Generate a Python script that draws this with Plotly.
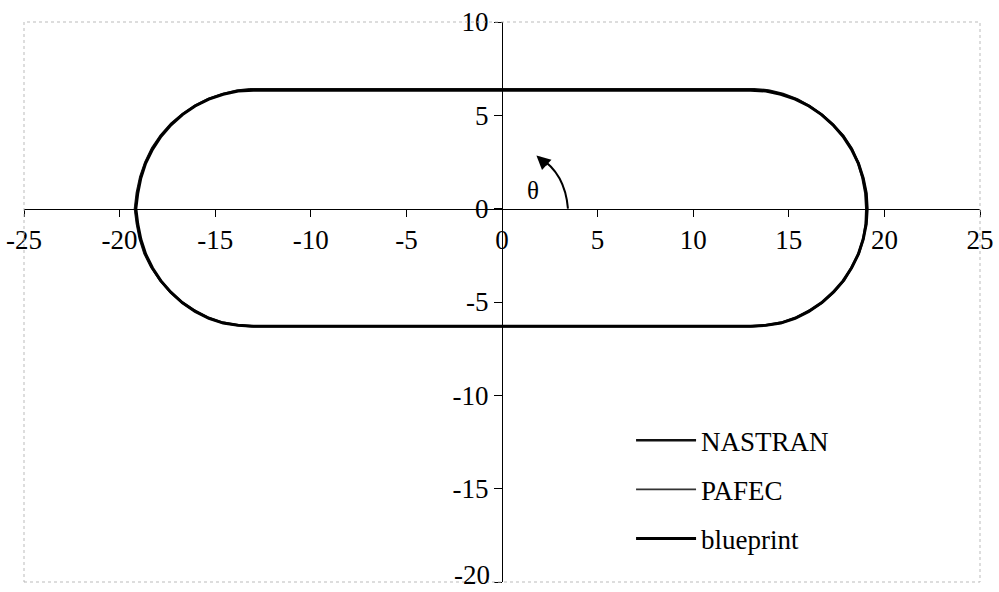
import plotly.graph_objects as go

# outline points (clockwise from the top-left corner of the flat part)
blueprint_x = [-13.0, 13.0, 13.80, 14.58, 15.33, 16.05, 16.71, 17.31, 17.84, 18.28, 18.64, 18.89,
               19.05, 19.1, 19.05, 18.89, 18.64, 18.28, 17.84, 17.31, 16.71, 16.05, 15.33, 14.58,
               13.80, 13.0, -13.0, -13.80, -14.58, -15.33, -16.05, -16.71, -17.31, -17.84, -18.28,
               -18.64, -18.89, -19.05, -19.15, -19.05, -18.89, -18.64, -18.28, -17.84, -17.31,
               -16.71, -16.05, -15.33, -14.58, -13.80, -13.0]
blueprint_y = [6.35, 6.35, 6.30, 6.13, 5.87, 5.50, 5.04, 4.49, 3.87, 3.18, 2.43, 1.64, 0.83, 0.0,
               -0.83, -1.64, -2.43, -3.18, -3.87, -4.49, -5.04, -5.50, -5.87, -6.13, -6.25, -6.3,
               -6.3, -6.25, -6.13, -5.87, -5.50, -5.04, -4.49, -3.87, -3.18, -2.43, -1.64, -0.83,
               0.0, 0.83, 1.64, 2.43, 3.18, 3.87, 4.49, 5.04, 5.50, 5.87, 6.13, 6.30, 6.35]

nastran_x = [-13.2, 13.2, 13.95, 14.7, 15.45, 16.1, 16.75, 17.3, 17.85, 18.3, 18.62, 18.85, 19.0,
             19.05, 19.02, 18.9, 18.66, 18.3, 17.9, 17.38, 16.78, 16.1, 15.38, 14.62, 13.85, 13.1,
             -13.1, -13.85, -14.62, -15.38, -16.1, -16.78, -17.38, -17.9, -18.35, -18.7, -18.95,
             -19.1, -19.2, -19.1, -18.92, -18.66, -18.3, -17.85, -17.3, -16.7, -16.05, -15.35,
             -14.62, -13.88, -13.2]
nastran_y = [6.4, 6.4, 6.34, 6.15, 5.86, 5.48, 5.02, 4.5, 3.9, 3.2, 2.45, 1.66, 0.84, 0.0, -0.82,
             -1.6, -2.4, -3.12, -3.82, -4.45, -5.0, -5.45, -5.84, -6.1, -6.24, -6.3, -6.3, -6.24,
             -6.1, -5.84, -5.45, -4.98, -4.42, -3.8, -3.12, -2.4, -1.6, -0.8, 0.0, 0.85, 1.7, 2.48,
             3.25, 3.92, 4.55, 5.08, 5.52, 5.88, 6.14, 6.32, 6.4]

pafec_x = [-13.1, 13.1, 13.85, 14.62, 15.38, 16.08, 16.72, 17.33, 17.86, 18.28, 18.66, 18.9, 19.06,
           19.1, 19.06, 18.88, 18.62, 18.26, 17.82, 17.3, 16.72, 16.06, 15.34, 14.6, 13.82, 13.05,
           -13.05, -13.82, -14.6, -15.34, -16.06, -16.74, -17.35, -17.88, -18.32, -18.68, -18.92,
           -19.08, -19.2, -19.08, -18.92, -18.66, -18.3, -17.86, -17.3, -16.72, -16.06, -15.36,
           -14.6, -13.84, -13.1]
pafec_y = [6.35, 6.35, 6.3, 6.12, 5.86, 5.5, 5.05, 4.5, 3.86, 3.18, 2.44, 1.64, 0.82, 0.0, -0.84,
           -1.66, -2.44, -3.2, -3.88, -4.5, -5.04, -5.5, -5.86, -6.12, -6.24, -6.3, -6.3, -6.24,
           -6.12, -5.86, -5.5, -5.04, -4.48, -3.86, -3.16, -2.42, -1.62, -0.82, 0.0, 0.84, 1.66,
           2.44, 3.2, 3.88, 4.5, 5.05, 5.5, 5.87, 6.13, 6.3, 6.35]

x_ticks = [-25, -20, -15, -10, -5, 0, 5, 10, 15, 20, 25]
x_labels = ["-25", "-20", "-15", "-10", "-5", "0", "5", "10", "15", "20", "25"]
y_ticks = [-20, -15, -10, -5, 0, 5, 10]
y_labels = ["", "-15", "-10", "-5", "0", "5", "10"]  # -20 is drawn a little higher below

FONT = "Liberation Serif"

fig = go.Figure()
fig.add_trace(go.Scatter(
    x=nastran_x, y=nastran_y, mode="lines", name="NASTRAN",
    line=dict(color="#111111", width=2.4), legendgroup="a",
))
fig.add_trace(go.Scatter(
    x=pafec_x, y=pafec_y, mode="lines", name="PAFEC",
    line=dict(color="#333333", width=1.6), legendgroup="b",
))
fig.add_trace(go.Scatter(
    x=blueprint_x, y=blueprint_y, mode="lines", name="blueprint",
    line=dict(color="#000000", width=3), legendgroup="c",
))

# theta arc with arrow
fig.add_shape(
    type="path", xref="x", yref="y",
    path="M 3.45 0 Q 3.3 1.9 1.95 2.75",
    line=dict(color="black", width=2),
)
fig.add_annotation(
    x=1.8, y=2.85, xref="x", yref="y", text="", showarrow=True,
    ax=12, ay=11, arrowhead=2, arrowsize=1.4, arrowwidth=2, arrowcolor="black",
)
fig.add_annotation(
    x=1.6, y=1.0, xref="x", yref="y", text="θ", showarrow=False,
    font=dict(family=FONT, size=25, color="black"),
)
fig.add_annotation(
    x=0, y=-20, xref="x", yref="y", text=str(y_ticks[0]), showarrow=False,
    xanchor="right", yanchor="middle", xshift=-10, yshift=7,
    font=dict(family=FONT, size=27, color="black"),
)

# faint dotted plot border
fig.add_shape(
    type="rect", xref="paper", yref="paper", x0=0, x1=1, y0=0, y1=1,
    line=dict(color="#bbbbbb", width=1, dash="dot"),
)

fig.update_layout(
    width=999, height=592,
    margin=dict(l=24, r=19, t=22, b=10),
    paper_bgcolor="white", plot_bgcolor="white",
    font=dict(family=FONT, size=27, color="black"),
    showlegend=True,
    legend=dict(
        x=0.635, y=0.296, xanchor="left", yanchor="top",
        bgcolor="rgba(0,0,0,0)", traceorder="grouped", tracegroupgap=11,
        font=dict(family=FONT, size=27, color="black"),
        itemwidth=60,
    ),
    xaxis=dict(
        range=[-25, 25], tickvals=x_ticks, ticktext=x_labels, showgrid=False, zeroline=False,
        showline=True, linecolor="black", linewidth=1,
        ticks="outside", ticklen=7, tickcolor="black",
        anchor="free", position=20 / 30, automargin=False, ticklabeloverflow="allow",
    ),
    yaxis=dict(
        range=[-20, 10], tickvals=y_ticks, ticktext=y_labels, showgrid=False, zeroline=False,
        showline=True, linecolor="black", linewidth=1,
        ticks="outside", ticklen=8, tickcolor="black",
        anchor="free", position=0.5, automargin=False, ticklabeloverflow="allow",
    ),
)

# drop the default 8px body margin so the figure fills the window exactly
fig.write_html(
    "out.html",
    config={"displayModeBar": False},
    post_script="document.body.style.margin = '0';",
)
